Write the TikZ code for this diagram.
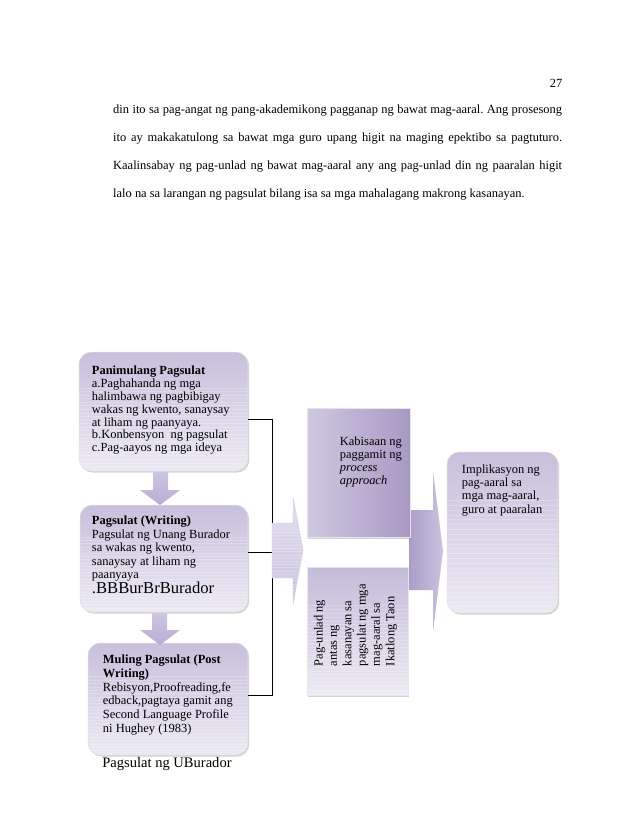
\documentclass[tikz,border=0pt]{standalone}
\usepackage{fontspec}
\setmainfont{Liberation Serif}
\usepackage{xcolor}
\usepackage{tikz}
\usetikzlibrary{positioning,calc,shadows}
\definecolor{lavtop}  {RGB}{200,191,219}
\definecolor{lavbot}  {RGB}{237,234,244}
\definecolor{kablight}{RGB}{208,200,226}
\definecolor{kabdark} {RGB}{168,153,195}
\definecolor{arrlight}{RGB}{228,223,239}
\definecolor{arredge} {RGB}{202,195,224}
\definecolor{arrdark} {RGB}{172,158,201}
\definecolor{dnarrow} {RGB}{184,172,212}
\newcommand{\pxl}[1]{\fpeval{#1*0.03384}cm}
\newlength{\parw}
\setlength{\parw}{15.194cm}
\tikzset{
  stripes/.style={path picture={
      \foreach \k in {0.30,0.33,...,1.0}{
        \draw[white, opacity=0.22, line width=0.3pt]
          ($(path picture bounding box.north west)!\k!(path picture bounding box.south west)$) --
          ($(path picture bounding box.north east)!\k!(path picture bounding box.south east)$);
      }}},
  phasebox/.style={draw=black!12, line width=0.5pt, rounded corners=12pt,
                   top color=lavtop, bottom color=lavbot, stripes,
                   drop shadow={shadow xshift=1.2pt, shadow yshift=-1.5pt, opacity=0.35}},
  flatbox/.style ={draw=black!10, line width=0.5pt,
                   drop shadow={shadow xshift=1.2pt, shadow yshift=-1.5pt, opacity=0.35}},
  boxtxt/.style  ={align=left, inner sep=0pt, anchor=north west,
                   font=\fontsize{12}{12.4}\selectfont},
  conn/.style    ={line width=0.7pt, black},
  dnarr/.style   ={top color=dnarrow!70, bottom color=dnarrow, draw=none},
}

\begin{document}
\frenchspacing
\begin{tikzpicture}[x=0.03384cm, y=-0.03384cm]
\useasboundingbox[fill=white] (0,0) rectangle (638,826);

%% ─── Page text ───────────────────────────────────────────────────────────────
\node[font=\fontsize{12}{14}\selectfont] (pnum) at (556,83) {27};
\node[anchor=north west, inner sep=0pt, text width=\parw, align=left,
      font=\fontsize{12}{27.1}\selectfont] (para) at (113,104.5)
  {\spaceskip=0.25em plus 0.6em minus 0.1em\relax
   \makebox[\parw][s]{din ito sa pag-angat ng pang-akademikong pagganap ng bawat mag-aaral. Ang prosesong}\\
   \makebox[\parw][s]{ito ay makakatulong sa bawat mga guro upang higit na maging epektibo sa pagtuturo.}\\
   \makebox[\parw][s]{Kaalinsabay ng pag-unlad ng bawat mag-aaral any ang pag-unlad din ng paaralan higit}\\
   lalo na sa larangan ng pagsulat bilang isa sa mga mahalagang makrong kasanayan.};

%% ─── Left column: three phases ───────────────────────────────────────────────
\node[phasebox, minimum width=\pxl{169}, minimum height=\pxl{119}] (p1) at (163.5,411.5) {};
\node[boxtxt] (p1txt) at ($(p1.north west)+(13,14)$)
  {\textbf{Panimulang Pagsulat}\\
   a.Paghahanda ng mga\\
   halimbawa ng pagbibigay\\
   wakas ng kwento, sanaysay\\
   at liham ng paanyaya.\\
   b.Konbensyon\ \ ng pagsulat\\
   c.Pag-aayos ng mga ideya};

\node[phasebox, minimum width=\pxl{168}, minimum height=\pxl{107}] (p2) at (164,558.5) {};
\node[boxtxt, font=\fontsize{12}{13}\selectfont] (p2txt) at ($(p2.north west)+(12,11)$)
  {\textbf{Pagsulat (Writing)}\\
   Pagsulat ng Unang Burador\\
   sa wakas ng kwento,\\
   sanaysay at liham ng\\
   paanyaya\\
   {\fontsize{16}{17}\selectfont .BBBurBrBurador}};

\node[phasebox, minimum width=\pxl{160}, minimum height=\pxl{112}] (p3) at (168,699) {};
\node[boxtxt, font=\fontsize{12}{13.2}\selectfont] (p3txt) at ($(p3.north west)+(15,12)$)
  {\textbf{Muling Pagsulat (Post}\\
   \textbf{Writing)}\\
   Rebisyon,Proofreading,fe\\
   edback,pagtaya gamit ang\\
   Second Language Profile\\
   ni Hughey (1983)};
\node[font=\fontsize{14}{16}\selectfont] (cap) at (167,764) {Pagsulat ng UBurador};

%% down arrows between the phases
\path[dnarr] (153,472) -- (168,472) -- (168,490) -- (180,490) -- (160,505)
             -- (140,490) -- (153,490) -- cycle;
\path[dnarr] (152,613) -- (167,613) -- (167,630) -- (180,630) -- (160,645)
             -- (140,630) -- (152,630) -- cycle;

%% ─── Bracket connector ───────────────────────────────────────────────────────
\coordinate (bar) at (272,0);
\coordinate (j1) at ($(p1.east)+(0,8)$);
\coordinate (j2) at ($(p2.east)+(0,-6)$);
\coordinate (j3) at ($(p3.east)+(0,-4)$);
\draw[conn] (j1) -- (j1 -| bar) -- (j3 -| bar) -- (j3);
\draw[conn] (j2) -- (j2 -| bar);

%% block arrow into the middle column
\path[top color=arrlight, bottom color=arredge, draw=arredge!80, stripes]
  (272,523) -- (293,523) -- (293,497) -- (303,550) -- (293,604)
  -- (293,578) -- (272,578) -- cycle;

%% block arrow into the right column (behind the middle boxes)
\path[left color=arrdark, right color=arredge, draw=none]
  (409,510) -- (433,510) -- (433,471) -- (443,551) -- (433,632)
  -- (433,590) -- (409,590) -- cycle;

%% ─── Middle column ───────────────────────────────────────────────────────────
\node[flatbox, left color=kablight, right color=kabdark,
      minimum width=\pxl{103}, minimum height=\pxl{129}] (kab) at (358.5,472.5) {};
\node[boxtxt] (kabtxt) at ($(kab.north west)+(33,29)$)
  {Kabisaan ng\\paggamit ng\\\textit{process}\\\textit{approach}};

\node[flatbox, stripes, top color=lavtop!90!kabdark, bottom color=lavbot,
      minimum width=\pxl{101}, minimum height=\pxl{128}] (pu) at (357.5,631) {};
\node[boxtxt, rotate=90, font=\fontsize{12}{13.8}\selectfont] (putxt)
  at ($(pu.south west)+(7,-29)$)
  {Pag-unlad ng\\antas ng\\kasanayan sa\\pagsulat ng mga\\mag-aaral sa\\Ikatlong Taon};

%% ─── Right column ────────────────────────────────────────────────────────────
\node[phasebox, minimum width=\pxl{111}, minimum height=\pxl{161}] (impl) at (502.5,532.5) {};
\node[boxtxt, font=\fontsize{12}{12.7}\selectfont] (impltxt) at ($(impl.north west)+(15,13)$)
  {Implikasyon ng\\pag-aaral sa\\mga mag-aaral,\\guro at paaralan};

\end{tikzpicture}
\end{document}
